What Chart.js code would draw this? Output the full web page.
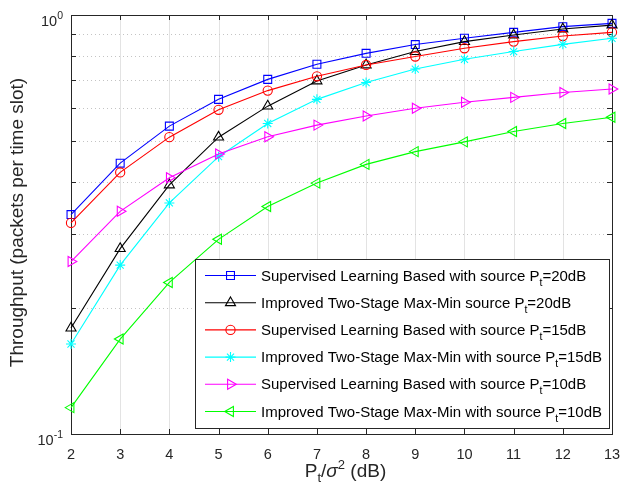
<!DOCTYPE html>
<html lang="en">
<head>
<meta charset="UTF-8">
<title>Throughput vs Pt/sigma^2</title>
<script src="https://cdn.jsdelivr.net/npm/chart.js"></script>
<style>
    html, body { margin: 0; padding: 0; background: #ffffff; }
    #chart { display: block; }
</style>
</head>
<body>
<canvas id="chart" width="621" height="496"></canvas>
<script>
    // x axis: Pt/sigma^2 in dB
    const snrDb = [2, 3, 4, 5, 6, 7, 8, 9, 10, 11, 12, 13];
    const xTicks = [2, 3, 4, 5, 6, 7, 8, 9, 10, 11, 12, 13];
    const yMinorTicks = [0.2, 0.3, 0.4, 0.5, 0.6, 0.7, 0.8, 0.9];

    // throughput values (packets per time slot)
    const supervised20 = [0.334, 0.443, 0.543, 0.629, 0.702, 0.763, 0.810, 0.850, 0.880, 0.909, 0.938, 0.955];
    const twoStage20   = [0.179, 0.277, 0.393, 0.511, 0.606, 0.696, 0.760, 0.818, 0.864, 0.896, 0.926, 0.946];
    const supervised15 = [0.319, 0.421, 0.511, 0.594, 0.660, 0.714, 0.760, 0.796, 0.833, 0.864, 0.891, 0.909];
    const twoStage15   = [0.164, 0.253, 0.356, 0.459, 0.551, 0.629, 0.690, 0.743, 0.784, 0.818, 0.851, 0.880];
    const supervised10 = [0.258, 0.340, 0.409, 0.466, 0.512, 0.546, 0.574, 0.599, 0.619, 0.636, 0.653, 0.666];
    const twoStage10   = [0.1156, 0.1685, 0.230, 0.2915, 0.349, 0.397, 0.440, 0.472, 0.498, 0.527, 0.551, 0.570];

    const legendHeads = [
        "Supervised Learning Based with source P",
        "Improved Two-Stage Max-Min source P",
        "Supervised Learning Based with source P",
        "Improved Two-Stage Max-Min with source P",
        "Supervised Learning Based with source P",
        "Improved Two-Stage Max-Min with source P"
    ];
    const legendTails = ["=20dB", "=20dB", "=15dB", "=15dB", "=10dB", "=10dB"];

    const seriesValues = [supervised20, twoStage20, supervised15, twoStage15, supervised10, twoStage10];
    const seriesColors = ["#0000ff", "#000000", "#ff0000", "#00ffff", "#ff00ff", "#00ff00"];
    const seriesMarkers = ["rect", "triangle", "circle", "star", "triangle", "triangle"];
    const markerRotation = [0, 0, 0, 0, 90, -90];
    const markerRadius = [5.6, 5.8, 4.6, 5, 5.8, 5.8];

    const FONT = "'Liberation Sans', Arial, Helvetica, sans-serif";
    const AXIS_COLOR = "#262626";

    function makeDataset(i) {
        return {
            label: legendHeads[i] + "t" + legendTails[i],
            data: snrDb.map((x, k) => ({ x: x, y: seriesValues[i][k] })),
            borderColor: seriesColors[i],
            backgroundColor: "rgba(0,0,0,0)",
            borderWidth: 1.1,
            pointStyle: seriesMarkers[i],
            pointRotation: markerRotation[i],
            pointRadius: markerRadius[i],
            pointBorderWidth: 1.1,
            pointBorderColor: seriesColors[i],
            pointBackgroundColor: "rgba(0,0,0,0)",
            tension: 0,
            clip: false,
            order: seriesValues.length - i   // later series drawn on top, like matlab
        };
    }

    // grid, axes box, tick marks
    const axesPlugin = {
        id: "axesPlugin",
        beforeDatasetsDraw(chart) {
            const ctx = chart.ctx;
            const a = chart.chartArea;
            const xs = chart.scales.x, ys = chart.scales.y;
            ctx.save();
            // vertical solid grid
            ctx.strokeStyle = "#e3e3e3";
            ctx.lineWidth = 1;
            xTicks.forEach(v => {
                const px = Math.round(xs.getPixelForValue(v)) + 0.5;
                ctx.beginPath(); ctx.moveTo(px, a.top); ctx.lineTo(px, a.bottom); ctx.stroke();
            });
            // horizontal dotted minor grid
            ctx.strokeStyle = "#c4c4c4";
            ctx.setLineDash([1, 3]);
            yMinorTicks.forEach(v => {
                const py = Math.round(ys.getPixelForValue(v)) + 0.5;
                ctx.beginPath(); ctx.moveTo(a.left, py); ctx.lineTo(a.right, py); ctx.stroke();
            });
            ctx.setLineDash([]);
            // box
            ctx.strokeStyle = AXIS_COLOR;
            ctx.lineWidth = 1;
            ctx.strokeRect(Math.round(a.left) + 0.5, Math.round(a.top) + 0.5,
                Math.round(a.right - a.left), Math.round(a.bottom - a.top));
            // tick marks pointing inward
            const tl = 5;
            ctx.beginPath();
            xTicks.forEach(v => {
                const px = Math.round(xs.getPixelForValue(v)) + 0.5;
                ctx.moveTo(px, a.bottom); ctx.lineTo(px, a.bottom - tl);
                ctx.moveTo(px, a.top); ctx.lineTo(px, a.top + tl);
            });
            yMinorTicks.forEach(v => {
                const py = Math.round(ys.getPixelForValue(v)) + 0.5;
                ctx.moveTo(a.left, py); ctx.lineTo(a.left + tl, py);
                ctx.moveTo(a.right, py); ctx.lineTo(a.right - tl, py);
            });
            ctx.stroke();
            ctx.restore();
        },
        afterDraw(chart) {
            const ctx = chart.ctx;
            const a = chart.chartArea;
            const xs = chart.scales.x, ys = chart.scales.y;
            ctx.save();
            ctx.fillStyle = AXIS_COLOR;

            // x tick labels
            ctx.font = "14.5px " + FONT;
            ctx.textAlign = "center";
            ctx.textBaseline = "alphabetic";
            xTicks.forEach(v => ctx.fillText(String(v), xs.getPixelForValue(v), a.bottom + 25));

            // y tick labels 10^0 and 10^-1
            [[1, "0"], [0.1, "-1"]].forEach(([v, exp]) => {
                const py = ys.getPixelForValue(v);
                ctx.font = "10.5px " + FONT;
                const ew = ctx.measureText(exp).width;
                const right = a.left - 8;
                ctx.textAlign = "left";
                ctx.fillText(exp, right - ew, py + 4);
                ctx.font = "14.5px " + FONT;
                ctx.textAlign = "right";
                ctx.fillText("10", right - ew, py + 11);
            });

            // y axis title
            ctx.save();
            ctx.translate(23, (a.top + a.bottom) / 2 - 2);
            ctx.rotate(-Math.PI / 2);
            ctx.font = "19px " + FONT;
            ctx.textAlign = "center";
            ctx.fillText("Throughput (packets per time slot)", 0, 0);
            ctx.restore();

            // x axis title: P_t / sigma^2 (dB)
            const big = "19px " + FONT, small = "13px " + FONT, ital = "italic 19px " + FONT;
            const parts = [
                { t: "P", f: big, dy: 0 },
                { t: "t", f: small, dy: 5 },
                { t: "/", f: big, dy: 0 },
                { t: "\u03c3", f: ital, dy: 0 },
                { t: "2", f: small, dy: -8 },
                { t: " (dB)", f: big, dy: 0 }
            ];
            let total = 0;
            parts.forEach(p => { ctx.font = p.f; p.w = ctx.measureText(p.t).width; total += p.w; });
            let cx = (a.left + a.right) / 2 + 4 - total / 2;
            ctx.textAlign = "left";
            parts.forEach(p => { ctx.font = p.f; ctx.fillText(p.t, cx, 477 + p.dy); cx += p.w; });

            // legend box
            const lx = 195.5, ly = 259.5, lw = 414, lh = 169;
            ctx.fillStyle = "#ffffff";
            ctx.fillRect(lx, ly, lw, lh);
            ctx.strokeStyle = AXIS_COLOR;
            ctx.lineWidth = 1;
            ctx.strokeRect(lx, ly, lw, lh);

            chart.data.datasets.forEach((ds, i) => {
                const ry = 275.5 + i * 27.2;
                ctx.strokeStyle = ds.borderColor;
                ctx.lineWidth = 1.1;
                ctx.beginPath(); ctx.moveTo(205, ry); ctx.lineTo(256, ry); ctx.stroke();
                ctx.fillStyle = "rgba(0,0,0,0)";
                Chart.helpers.drawPoint(ctx, {
                    pointStyle: ds.pointStyle,
                    rotation: ds.pointRotation,
                    radius: ds.pointRadius,
                    borderWidth: 1.1
                }, 230.5, ry);
                ctx.fillStyle = "#000000";
                ctx.textAlign = "left";
                ctx.textBaseline = "alphabetic";
                ctx.font = "15px " + FONT;
                let tx = 261;
                ctx.fillText(legendHeads[i], tx, ry + 5);
                tx += ctx.measureText(legendHeads[i]).width;
                ctx.font = "10.5px " + FONT;
                ctx.fillText("t", tx, ry + 10);
                tx += ctx.measureText("t").width;
                ctx.font = "15px " + FONT;
                ctx.fillText(legendTails[i], tx, ry + 5);
            });
            ctx.restore();
        }
    };

    new Chart(document.getElementById("chart"), {
        type: "line",
        data: { datasets: seriesValues.map((_, i) => makeDataset(i)) },
        options: {
            responsive: false,
            animation: false,
            layout: { padding: { left: 71, top: 15, right: 9, bottom: 62 } },
            plugins: { legend: { display: false }, tooltip: { enabled: false } },
            scales: {
                x: { type: "linear", min: 2, max: 13, display: false },
                y: { type: "logarithmic", min: 0.1, max: 1, display: false }
            }
        },
        plugins: [axesPlugin]
    });
</script>
</body>
</html>
